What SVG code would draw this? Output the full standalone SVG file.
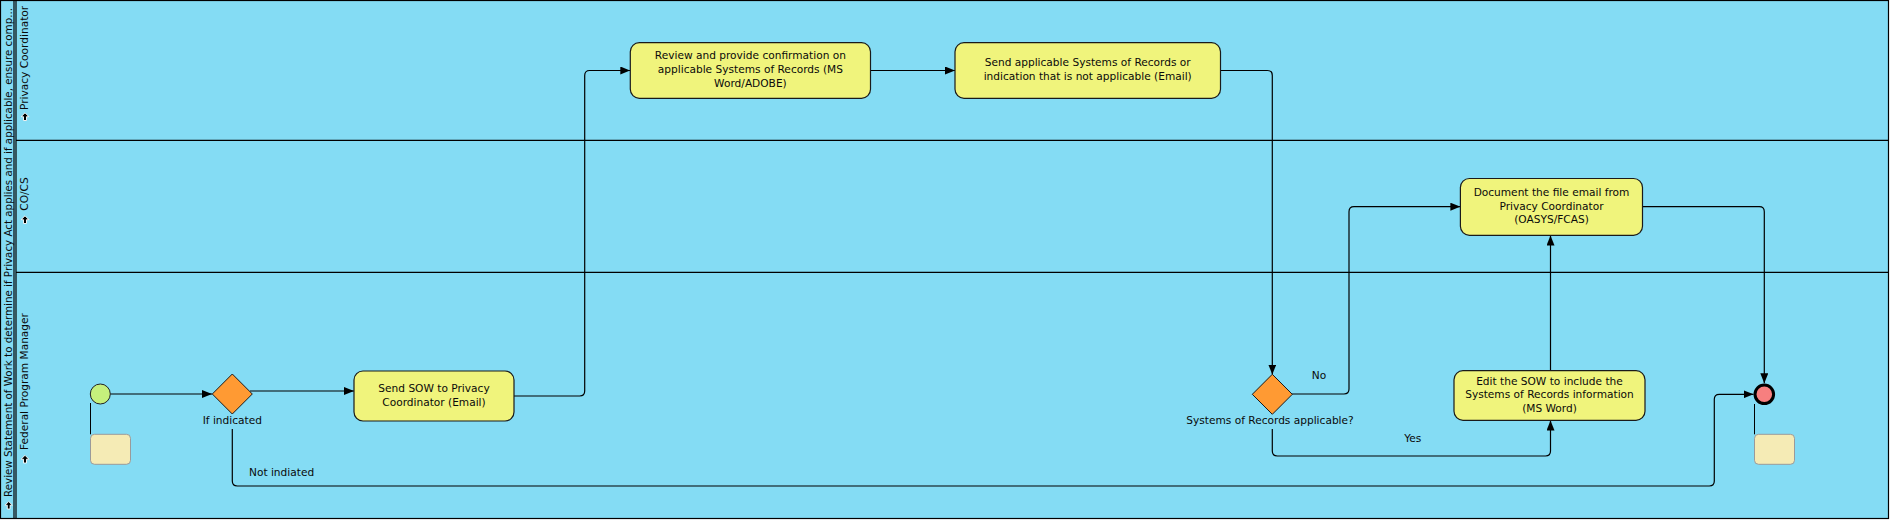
<svg xmlns="http://www.w3.org/2000/svg" width="1892" height="522" viewBox="0 0 1892 522">
<style>
text{font-family:"DejaVu Sans","Liberation Sans",sans-serif;font-size:10.6px;fill:#0a0a0a}
.c{text-anchor:middle}
.title{font-size:10.2px}
.task{fill:#F0F47C;stroke:#1a1a1a;stroke-width:1.2}
.gw{fill:#FF9A33;stroke:#1a1a1a;stroke-width:1}
.ann{fill:#F5EBB5;stroke:#9a9a9a;stroke-width:1}
.edge{fill:none;stroke:#000;stroke-width:1.2}
.assoc{fill:none;stroke:#000;stroke-width:1}
.ln{stroke:#000;stroke-width:1.2}
.ico{fill:#000;stroke:#fff;stroke-width:0.9}
</style>
<defs>
<marker id="ah" markerWidth="10" markerHeight="8" refX="10" refY="4" orient="auto" markerUnits="userSpaceOnUse">
<path d="M0,0 L10,4 L0,8 Z" fill="#000"/>
</marker>
</defs>
<g id="pool">
<rect x="0.5" y="0.5" width="1888" height="518" fill="#84DCF4" stroke="#000" stroke-width="1.2"/>
<line class="ln" x1="14" y1="0.5" x2="14" y2="518.5"/>
<line class="ln" x1="16" y1="0.5" x2="16" y2="518.5"/>
<line class="ln" x1="16" y1="140.3" x2="1888.5" y2="140.3"/>
<line class="ln" x1="16" y1="272.3" x2="1888.5" y2="272.3"/>
<text class="title" transform="translate(11.8,497) rotate(-90)" textLength="489" lengthAdjust="spacingAndGlyphs">Review Statement of Work to determine if Privacy Act applies and if applicable, ensure comp...</text>
<polygon class="ico" points="8.7,501.5 12.4,505.2 10.1,505.2 10.1,509 7.3,509 7.3,505.2 5,505.2"/>
</g>
<g id="lane-privacy">
<text transform="translate(28.3,110) rotate(-90)">Privacy Coordinator</text>
<polygon class="ico" points="25,112.8 28.9,116.7 26.5,116.7 26.5,120.5 23.5,120.5 23.5,116.7 21.1,116.7"/>
</g>
<g id="lane-cocs">
<text transform="translate(28.3,210.7) rotate(-90)">CO/CS</text>
<polygon class="ico" points="25,215.8 28.9,219.7 26.5,219.7 26.5,223.5 23.5,223.5 23.5,219.7 21.1,219.7"/>
</g>
<g id="lane-fpm">
<text transform="translate(28.3,450) rotate(-90)">Federal Program Manager</text>
<polygon class="ico" points="25,455.3 28.9,459.2 26.5,459.2 26.5,463 23.5,463 23.5,459.2 21.1,459.2"/>
</g>
<g id="connectors">
<path class="edge" d="M110.3,394 H212" marker-end="url(#ah)"/>
<path class="edge" d="M250,391 H354" marker-end="url(#ah)"/>
<path class="edge" d="M514,396 H579.7 Q584.7,396 584.7,391 V75.5 Q584.7,70.5 589.7,70.5 H630.3" marker-end="url(#ah)"/>
<path class="edge" d="M870.5,70.5 H955" marker-end="url(#ah)"/>
<path class="edge" d="M1220.5,70.5 H1267.3 Q1272.3,70.5 1272.3,75.5 V374.5" marker-end="url(#ah)"/>
<path class="edge" d="M1292,394 H1344 Q1349,394 1349,389 V211.7 Q1349,206.7 1354,206.7 H1460.4" marker-end="url(#ah)"/>
<path class="edge" d="M1272.3,429 V451 Q1272.3,456 1277.3,456 H1545.5 Q1550.5,456 1550.5,451 V420.5" marker-end="url(#ah)"/>
<path class="edge" d="M1550.5,371 V235.5" marker-end="url(#ah)"/>
<path class="edge" d="M1642.5,206.7 H1759.3 Q1764.3,206.7 1764.3,211.7 V383.3" marker-end="url(#ah)"/>
<path class="edge" d="M232.3,429 V481 Q232.3,486 237.3,486 H1709.3 Q1714.3,486 1714.3,481 V399.3 Q1714.3,394.3 1719.3,394.3 H1753.5" marker-end="url(#ah)"/>
<line class="assoc" x1="90.5" y1="403" x2="90.5" y2="434.3"/>
<line class="assoc" x1="1754.5" y1="404" x2="1754.5" y2="434.3"/>
<text class="c" x="1319" y="379">No</text>
<text class="c" x="1412.7" y="442">Yes</text>
<text x="249" y="475.6">Not indiated</text>
</g>
<g id="start">
<circle cx="100.3" cy="394" r="10" fill="#C5F07C" stroke="#222" stroke-width="1"/>
</g>
<g id="start-annotation">
<rect class="ann" x="90.5" y="434.3" width="40" height="30" rx="4"/>
</g>
<g id="gateway-indicated">
<polygon class="gw" points="232.3,374 252.3,394 232.3,414 212.3,394"/>
<text class="c" x="232.3" y="424">If indicated</text>
</g>
<g id="task-send-sow">
<rect class="task" x="354" y="371" width="160" height="50" rx="9"/>
<text class="c" x="434" y="391.7">Send SOW to Privacy</text>
<text class="c" x="434" y="405.7">Coordinator (Email)</text>
</g>
<g id="task-review">
<rect class="task" x="630.3" y="42.7" width="240.2" height="55.6" rx="9"/>
<text class="c" x="750.4" y="59">Review and provide confirmation on</text>
<text class="c" x="750.4" y="73">applicable Systems of Records (MS</text>
<text class="c" x="750.4" y="87">Word/ADOBE)</text>
</g>
<g id="task-send-applicable">
<rect class="task" x="955" y="42.7" width="265.5" height="55.6" rx="9"/>
<text class="c" x="1087.7" y="66">Send applicable Systems of Records or</text>
<text class="c" x="1087.7" y="80">indication that is not applicable (Email)</text>
</g>
<g id="gateway-sor">
<polygon class="gw" points="1272.3,374.3 1292.3,394.3 1272.3,414.3 1252.3,394.3"/>
<text class="c" x="1270" y="424">Systems of Records applicable?</text>
</g>
<g id="task-document">
<rect class="task" x="1460.4" y="178.5" width="182.1" height="56.8" rx="9"/>
<text class="c" x="1551.5" y="195.7">Document the file email from</text>
<text class="c" x="1551.5" y="209.5">Privacy Coordinator</text>
<text class="c" x="1551.5" y="223.3">(OASYS/FCAS)</text>
</g>
<g id="task-edit">
<rect class="task" x="1454" y="370.7" width="191" height="49.6" rx="9"/>
<text class="c" x="1549.5" y="384.5">Edit the SOW to include the</text>
<text class="c" x="1549.5" y="398.3">Systems of Records information</text>
<text class="c" x="1549.5" y="412">(MS Word)</text>
</g>
<g id="end">
<circle cx="1764.3" cy="394.3" r="9.3" fill="#F77F7F" stroke="#000" stroke-width="3"/>
</g>
<g id="end-annotation">
<rect class="ann" x="1754.5" y="434.3" width="40" height="30" rx="4"/>
</g>
</svg>
